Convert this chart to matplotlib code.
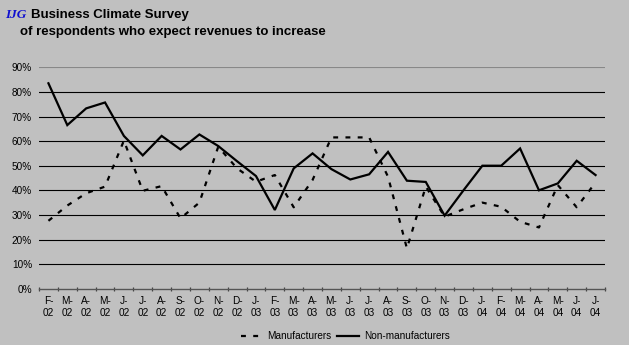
import matplotlib
matplotlib.use("Agg")
import matplotlib.pyplot as plt
from matplotlib.lines import Line2D

months = ["F-", "M-", "A-", "M-", "J-", "J-", "A-", "S-", "O-", "N-", "D-",
          "J-", "F-", "M-", "A-", "M-", "J-", "J-", "A-", "S-", "O-", "N-", "D-",
          "J-", "F-", "M-", "A-", "M-", "J-", "J-"]
years = ["02"] * 11 + ["03"] * 12 + ["04"] * 7
tick_labels = [f"{m}\n{y}" for m, y in zip(months, years)]

manufacturers = [27.6, 33.8, 38.8, 41.5, 60.2, 39.8, 41.7, 28.6, 35.0, 57.7, 48.9,
                 43.5, 46.2, 33.1, 44.2, 61.5, 61.5, 61.5, 45.5, 16.4, 41.5, 29.3,
                 32.3, 35.0, 33.3, 27.2, 24.9, 42.1, 33.1, 43.2]
non_manufacturers = [83.5, 66.5, 73.3, 75.7, 62.1, 54.2, 62.1, 56.6, 62.7, 58.0, 51.8,
                     45.8, 32.0, 48.9, 55.0, 48.6, 44.4, 46.5, 55.6, 43.9, 43.4, 29.7,
                     40.0, 50.0, 50.0, 57.0, 40.0, 42.8, 52.0, 46.2]

plt.rcParams['font.family'] = ['Liberation Sans', 'DejaVu Sans']
bg = "#C0C0C0"
fs = 7.2
fig = plt.figure(figsize=(6.29, 3.45), dpi=100, facecolor=bg)
ax = fig.add_axes([39/629, 1 - 288.7/345, 566/629, (288.7 - 67.3)/345])
ax.set_facecolor(bg)

x = list(range(len(months)))
man_vals = [v / 100 for v in manufacturers]
non_vals = [v / 100 for v in non_manufacturers]
ax.plot(x, man_vals, color="black", lw=1.6, linestyle=(0, (2.2, 3.3)),
        dash_capstyle="butt", label="Manufacturers")
ax.plot(x, non_vals, color="black", lw=1.6, solid_joinstyle="miter",
        label="Non-manufacturers")

ax.set_xlim(-0.5, len(months) - 0.5)
ax.set_ylim(0, 0.9)
yt = [i / 10 for i in range(10)]
ax.set_yticks(yt)
ax.set_yticklabels([f"{int(round(v*100))}%" for v in yt], fontsize=fs)
for v in yt[1:]:
    col = "#888888" if v > 0.85 else "black"
    ax.axhline(v, color=col, lw=0.8, zorder=0)

ax.set_xticks(x)
ax.set_xticklabels(tick_labels, fontsize=fs, linespacing=1.35)
ax.set_xticks([i - 0.5 for i in range(len(months) + 1)], minor=True)
ax.tick_params(axis="x", which="major", length=0, pad=5)
ax.tick_params(axis="x", which="minor", length=3, width=0.9, color="#444444", direction="inout")
ax.tick_params(axis="y", length=0, pad=5)
for s in ["top", "right", "left"]:
    ax.spines[s].set_visible(False)
ax.spines["bottom"].set_color("#555555")
ax.spines["bottom"].set_linewidth(1.0)

tfs = 9.5
fig.text(5/629, 1 - 18/345, "IJG", color="#1010D0", fontsize=tfs, fontstyle="italic",
         fontweight="bold", family=["Liberation Serif", "DejaVu Serif"])
fig.text(31/629, 1 - 18/345, "Business Climate Survey", fontsize=tfs, fontweight="bold")
fig.text(20/629, 1 - 35/345, "of respondents who expect revenues to increase", fontsize=tfs,
         fontweight="bold")

handles = [Line2D([0], [0], color="black", lw=1.6, linestyle=(0, (2.2, 3.3))),
           Line2D([0], [0], color="black", lw=1.6)]
fig.legend(handles, ["Manufacturers", "Non-manufacturers"], loc="center",
           bbox_to_anchor=(345/629, 1 - 336/345), ncol=2, frameon=False,
           fontsize=fs, handlelength=2.2, handletextpad=0.5, columnspacing=0.5)

fig.savefig("out.png", dpi=100, facecolor=bg)
